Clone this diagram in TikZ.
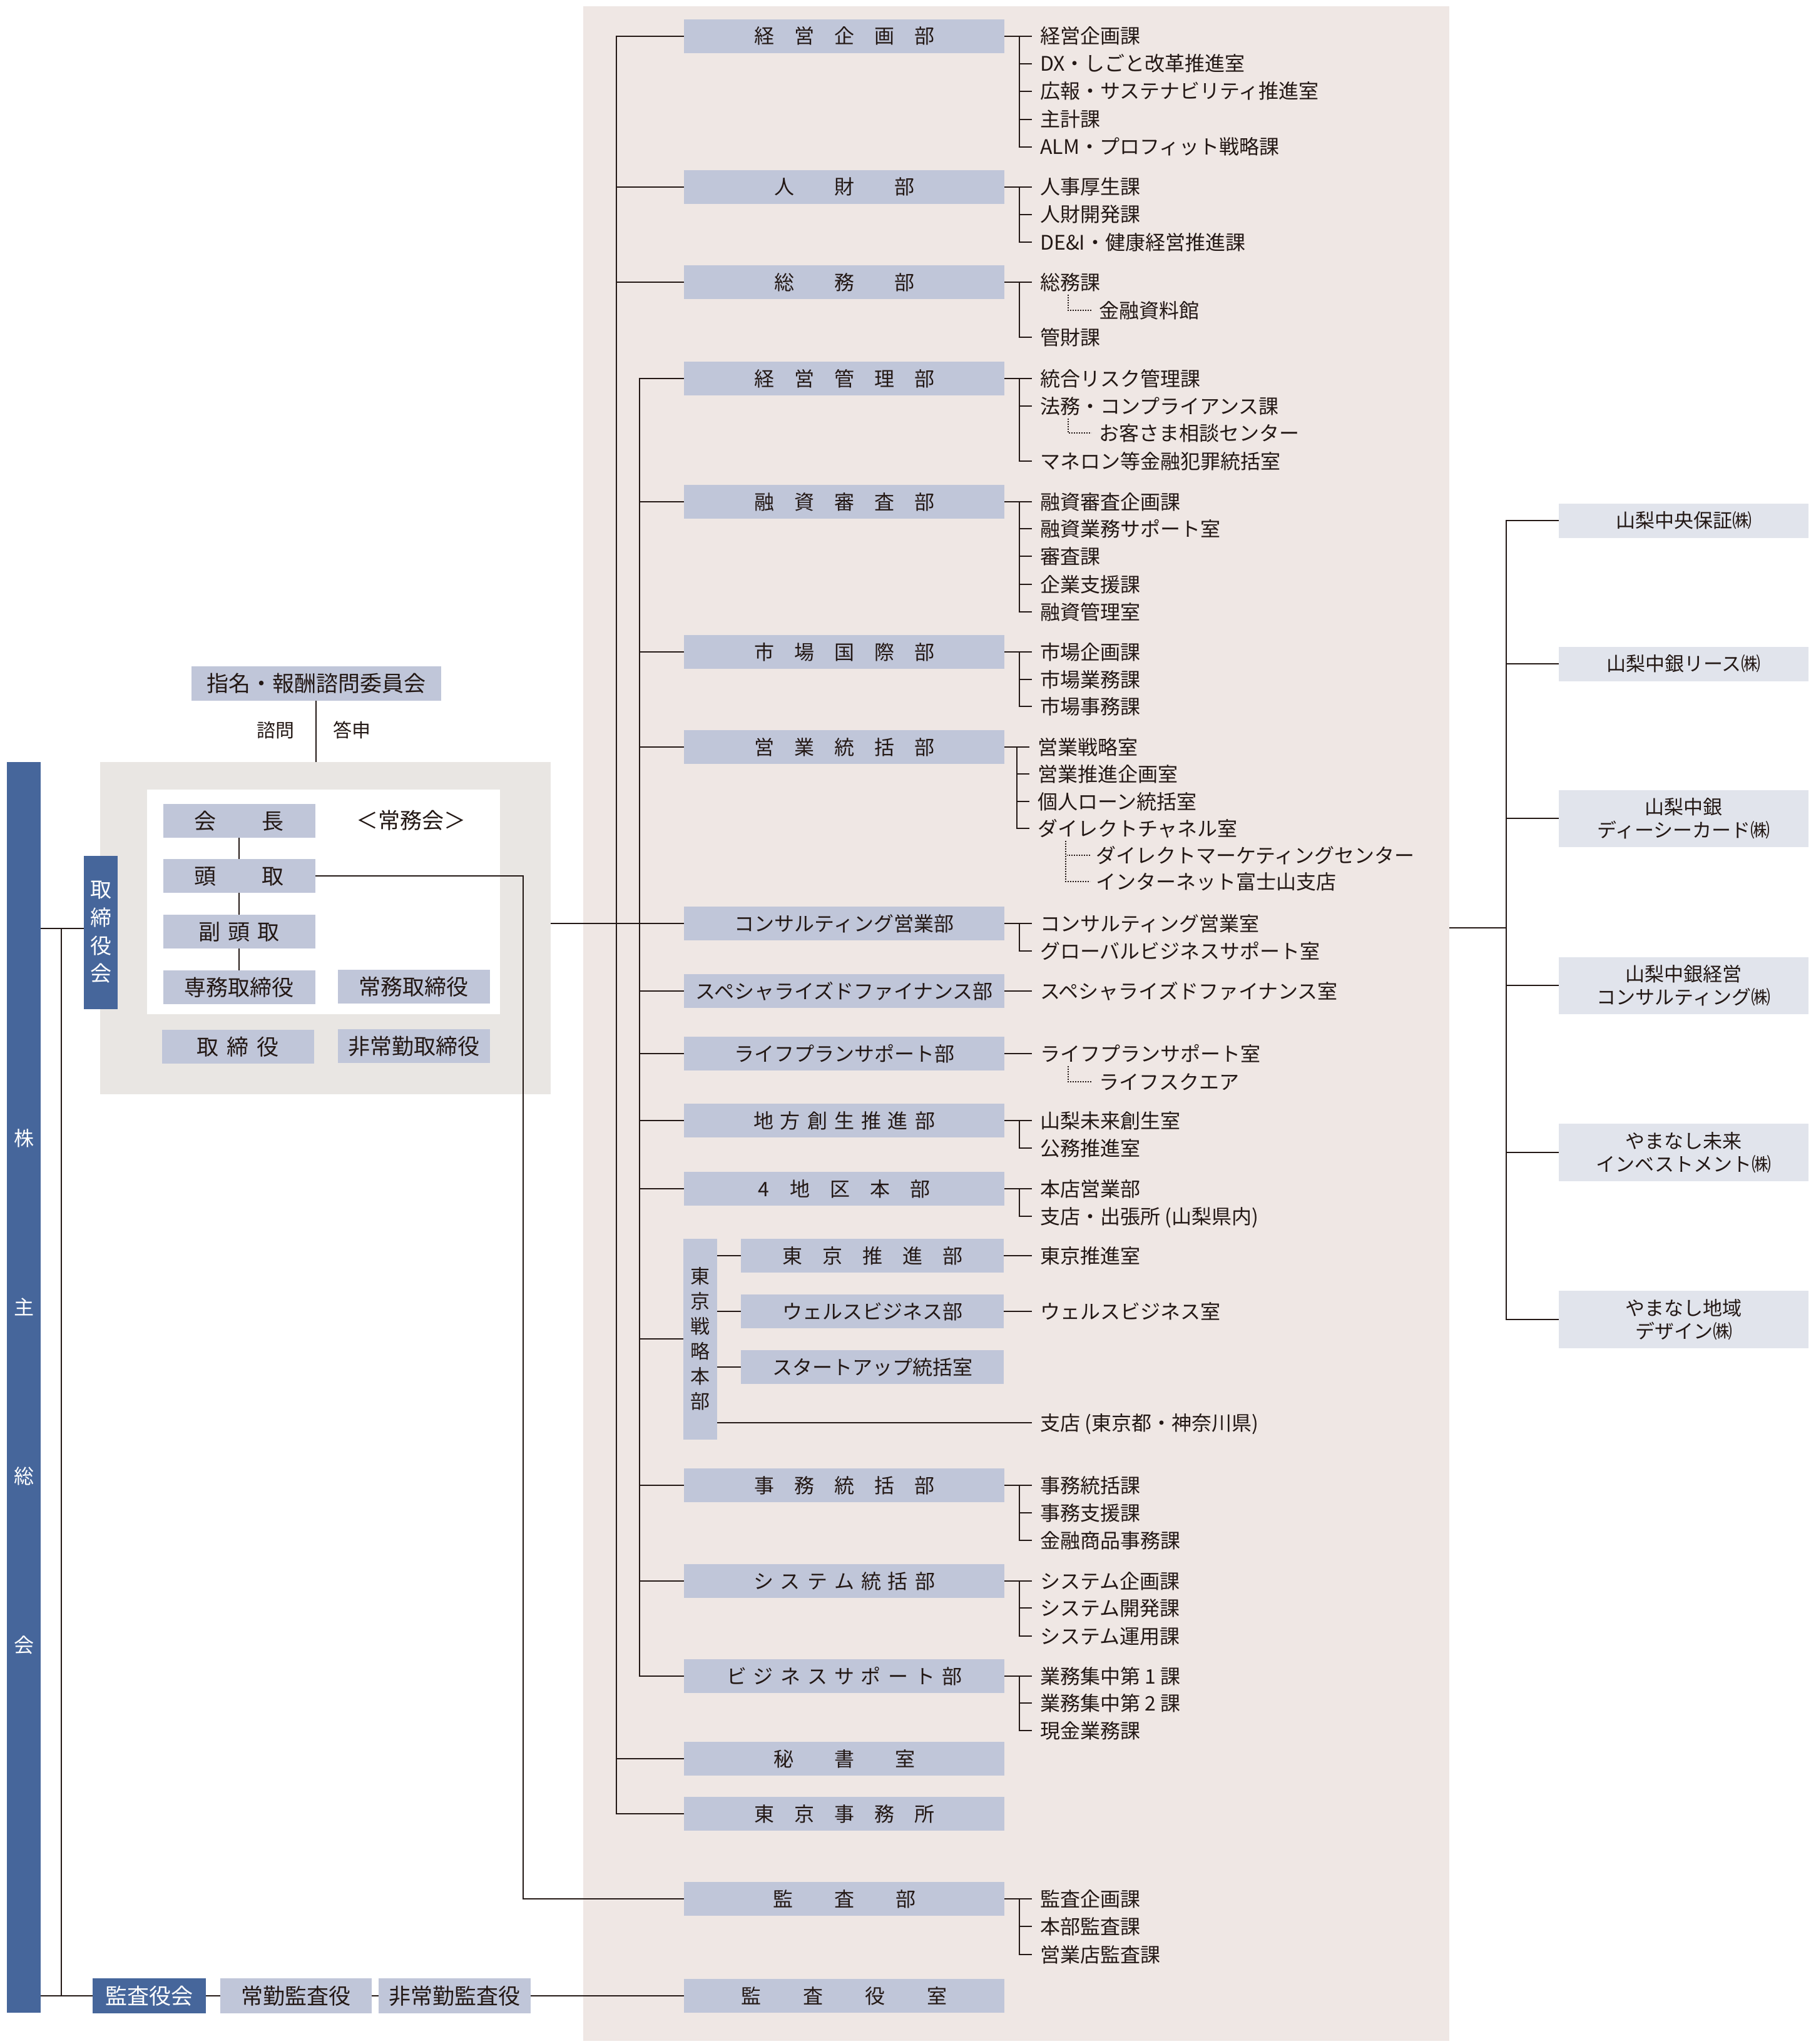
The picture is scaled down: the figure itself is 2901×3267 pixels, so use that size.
\documentclass[tikz,border=0pt]{standalone}
\usepackage{fontspec}
\setmainfont{Noto Sans CJK JP}
\definecolor{pinkc}{RGB}{239,231,228}
\definecolor{greyc}{RGB}{233,230,227}
\definecolor{deptc}{RGB}{192,198,217}
\definecolor{subc}{RGB}{225,228,236}
\definecolor{bluec}{RGB}{70,102,155}
\definecolor{txtc}{RGB}{35,24,21}
\newcommand{\fsz}[1]{\fontsize{#1pt}{#1pt}\selectfont}
\newcommand{\gp}[1]{\hspace{#1pt}}
\newcommand{\brk}[3]{\draw[ln] (#1.east) -- ([xshift=-13pt]#2.west); \draw[ln] ([xshift=-33pt]#2.west) |- ([xshift=-13pt]#3.west);}
\newcommand{\tk}[1]{\draw[ln] ([xshift=-33pt]#1.west) -- ([xshift=-13pt]#1.west);}
\newcommand{\dt}[2]{\draw[dotl] ([xshift=45pt,yshift=-20pt]#1.west) |- ([xshift=-12pt]#2.west);}
\pgfdeclarelayer{panels}
\pgfdeclarelayer{lines}
\pgfsetlayers{panels,lines,main}
\begin{document}
\begin{tikzpicture}[x=1pt,y=-1pt,
 dept/.style={fill=deptc, inner sep=0pt, minimum width=512pt, minimum height=54pt, text=txtc, font=\fsz{32}, text height=28pt, text depth=4pt},
 item/.style={anchor=west, inner sep=0pt, text=txtc, font=\fsz{32}, text height=28pt, text depth=4pt},
 vbox/.style={fill=deptc, inner sep=0pt, minimum width=54pt, minimum height=321pt, text=txtc, align=center, font=\fontsize{31pt}{40pt}\selectfont},
 bd/.style={fill=deptc, inner sep=0pt, minimum width=243pt, minimum height=54pt, text=txtc, font=\fsz{35}, text height=31pt, text depth=4pt},
 lbl/.style={inner sep=0pt, text=txtc, font=\fsz{30}},
 sub/.style={fill=subc, inner sep=0pt, minimum width=399pt, minimum height=55pt, text=txtc, align=center, font=\fontsize{31pt}{37pt}\selectfont},
 ln/.style={draw=txtc, line width=2.2pt},
 ln2/.style={draw=txtc, line width=1.8pt},
 ln3/.style={draw=txtc, line width=1.8pt},
 dotl/.style={draw=txtc, line width=1.6pt, dash pattern=on 1.6pt off 2.4pt}
]
\useasboundingbox (0,0) rectangle (2901,3267);
\begin{pgfonlayer}{panels}
\fill[white] (0,0) rectangle (2901,3267);
\node[fill=pinkc, inner sep=0pt, minimum width=1384pt, minimum height=3252pt] (mainpanel) at (1624,1636) {};
\node[fill=greyc, inner sep=0pt, minimum width=720pt, minimum height=531pt] (bpanel) at (520,1483.5) {};
\node[fill=white, inner sep=0pt, minimum width=564pt, minimum height=359pt] (wpanel) at (517,1441.5) {};
\end{pgfonlayer}

% departments
\node[dept] (d1) at (1349,58) {経\gp{32}営\gp{32}企\gp{32}画\gp{32}部};
\node[dept] (d2) at (1349,299) {人\gp{64}財\gp{64}部};
\node[dept] (d3) at (1349,451) {総\gp{64}務\gp{64}部};
\node[dept] (d4) at (1349,605) {経\gp{32}営\gp{32}管\gp{32}理\gp{32}部};
\node[dept] (d5) at (1349,802) {融\gp{32}資\gp{32}審\gp{32}査\gp{32}部};
\node[dept] (d6) at (1349,1042) {市\gp{32}場\gp{32}国\gp{32}際\gp{32}部};
\node[dept] (d7) at (1349,1194) {営\gp{32}業\gp{32}統\gp{32}括\gp{32}部};
\node[dept] (d8) at (1349,1476) {コンサルティング営業部};
\node[dept] (d9) at (1349,1584) {スペシャライズドファイナンス部};
\node[dept] (d10) at (1349,1684) {ライフプランサポート部};
\node[dept] (d11) at (1349,1791) {地\gp{11}方\gp{11}創\gp{11}生\gp{11}推\gp{11}進\gp{11}部};
\node[dept] (d12) at (1349,1900) {4\gp{34}地\gp{32}区\gp{32}本\gp{32}部};
\node[vbox] (d13) at (1119,2140) {東\\京\\戦\\略\\本\\部};
\node[dept, minimum width=420pt] (t1) at (1394,2007) {東\gp{32}京\gp{32}推\gp{32}進\gp{32}部};
\node[dept, minimum width=420pt] (t2) at (1394,2096) {ウェルスビジネス部};
\node[dept, minimum width=420pt] (t3) at (1394,2185) {スタートアップ統括室};
\node[dept] (d14) at (1349,2374) {事\gp{32}務\gp{32}統\gp{32}括\gp{32}部};
\node[dept] (d15) at (1349,2527) {シ\gp{11}ス\gp{11}テ\gp{11}ム\gp{11}統\gp{11}括\gp{11}部};
\node[dept] (d16) at (1349,2679) {ビ\gp{11}ジ\gp{11}ネ\gp{11}ス\gp{11}サ\gp{11}ポ\gp{11}ー\gp{11}ト\gp{11}部};
\node[dept] (d17) at (1349,2811) {秘\gp{65}書\gp{65}室};
\node[dept] (d18) at (1349,2899) {東\gp{32}京\gp{32}事\gp{32}務\gp{32}所};
\node[dept] (d19) at (1349,3035) {監\gp{66}査\gp{66}部};
\node[dept] (d20) at (1349,3190) {監\gp{67}査\gp{67}役\gp{67}室};

% items
\node[item] (i1a) at (1662,58) {経営企画課};
\node[item] (i1b) at (1662,102) {DX・しごと改革推進室};
\node[item] (i1c) at (1662,146) {広報・サステナビリティ推進室};
\node[item] (i1d) at (1662,191) {主計課};
\node[item] (i1e) at (1662,235) {ALM・プロフィット戦略課};
\node[item] (i2a) at (1662,299) {人事厚生課};
\node[item] (i2b) at (1662,343) {人財開発課};
\node[item] (i2c) at (1662,387) {DE\&I・健康経営推進課};
\node[item] (i3a) at (1662,451) {総務課};
\node[item] (i3x) at (1756,496) {金融資料館};
\node[item] (i3b) at (1662,539) {管財課};
\node[item] (i4a) at (1662,605) {統合リスク管理課};
\node[item] (i4b) at (1662,649) {法務・コンプライアンス課};
\node[item] (i4x) at (1756,692) {お客さま相談センター};
\node[item] (i4c) at (1662,737) {マネロン等金融犯罪統括室};
\node[item] (i5a) at (1662,802) {融資審査企画課};
\node[item] (i5b) at (1662,845) {融資業務サポート室};
\node[item] (i5c) at (1662,889) {審査課};
\node[item] (i5d) at (1662,934) {企業支援課};
\node[item] (i5e) at (1662,978) {融資管理室};
\node[item] (i6a) at (1662,1042) {市場企画課};
\node[item] (i6b) at (1662,1086) {市場業務課};
\node[item] (i6c) at (1662,1129) {市場事務課};
\node[item] (i7a) at (1658,1194) {営業戦略室};
\node[item] (i7b) at (1658,1237) {営業推進企画室};
\node[item] (i7c) at (1658,1281) {個人ローン統括室};
\node[item] (i7d) at (1658,1324) {ダイレクトチャネル室};
\node[item] (i7x) at (1751,1367) {ダイレクトマーケティングセンター};
\node[item] (i7y) at (1751,1409) {インターネット富士山支店};
\node[item] (i8a) at (1662,1476) {コンサルティング営業室};
\node[item] (i8b) at (1662,1520) {グローバルビジネスサポート室};
\node[item] (i9a) at (1662,1584) {スペシャライズドファイナンス室};
\node[item] (i10a) at (1662,1684) {ライフプランサポート室};
\node[item] (i10x) at (1756,1729) {ライフスクエア};
\node[item] (i11a) at (1662,1791) {山梨未来創生室};
\node[item] (i11b) at (1662,1835) {公務推進室};
\node[item] (i12a) at (1662,1900) {本店営業部};
\node[item] (i12b) at (1662,1944) {支店・出張所 (山梨県内)};
\node[item] (it1) at (1662,2007) {東京推進室};
\node[item] (it2) at (1662,2096) {ウェルスビジネス室};
\node[item] (ibr) at (1662,2274) {支店 (東京都・神奈川県)};
\node[item] (i14a) at (1662,2374) {事務統括課};
\node[item] (i14b) at (1662,2418) {事務支援課};
\node[item] (i14c) at (1662,2462) {金融商品事務課};
\node[item] (i15a) at (1662,2527) {システム企画課};
\node[item] (i15b) at (1662,2570) {システム開発課};
\node[item] (i15c) at (1662,2615) {システム運用課};
\node[item] (i16a) at (1662,2679) {業務集中第 1 課};
\node[item] (i16b) at (1662,2722) {業務集中第 2 課};
\node[item] (i16c) at (1662,2766) {現金業務課};
\node[item] (i19a) at (1662,3035) {監査企画課};
\node[item] (i19b) at (1662,3079) {本部監査課};
\node[item] (i19c) at (1662,3124) {営業店監査課};

% board
\node[bd, minimum width=399pt, minimum height=55pt] (shimei) at (505,1092) {指名・報酬諮問委員会};
\node[lbl] (shimon) at (440,1167) {諮問};
\node[lbl] (toshin) at (562,1167) {答申};
\node[bd] (kaicho) at (382,1312) {会\gp{73}長};
\node[bd] (tohdori) at (382,1400) {頭\gp{73}取};
\node[bd] (fuku) at (382,1489) {副\gp{12}頭\gp{12}取};
\node[bd] (senmu) at (382,1578) {専務取締役};
\node[bd] (jomu) at (661,1577) {常務取締役};
\node[bd] (tori) at (380,1673) {取\gp{13}締\gp{13}役};
\node[bd] (hijo) at (661,1672) {非常勤取締役};
\node[inner sep=0pt, text=txtc, font=\fsz{35}] (jomukai) at (657,1311) {＜常務会＞};
\node[fill=bluec, inner sep=0pt, minimum width=54pt, minimum height=245pt, text=white, align=center, font=\fontsize{34pt}{44.6pt}\selectfont] (torikai) at (161,1490) {取\\締\\役\\会};
\node[fill=bluec, inner sep=0pt, minimum width=54pt, minimum height=1999pt, text=white, align=center, font=\fontsize{32pt}{270pt}\selectfont, text height=852pt, text depth=4pt] (kab) at (38,2217) {株\\主\\総\\会};
\node[fill=bluec, inner sep=0pt, minimum width=181pt, minimum height=56pt, text=white, font=\fsz{35}, text height=31pt, text depth=4pt] (kyakai) at (238.5,3190) {監査役会};
\node[bd, minimum width=242pt, minimum height=56pt] (jokin) at (473,3190) {常勤監査役};
\node[bd, minimum width=243pt, minimum height=56pt] (hijokin) at (726.5,3190) {非常勤監査役};

% subsidiaries
\node[sub] (s1) at (2690.5,832) {山梨中央保証㈱};
\node[sub] (s2) at (2690.5,1061) {山梨中銀リース㈱};
\node[sub, minimum height=91pt] (s3) at (2690.5,1308) {山梨中銀\\ディーシーカード㈱};
\node[sub, minimum height=91pt] (s4) at (2690.5,1575) {山梨中銀経営\\コンサルティング㈱};
\node[sub, minimum height=92pt] (s5) at (2690.5,1842) {やまなし未来\\インベストメント㈱};
\node[sub, minimum height=92pt] (s6) at (2690.5,2109) {やまなし地域\\デザイン㈱};

\coordinate (tA) at (985,0);
\coordinate (tB) at (1022,0);
\coordinate (tc) at (836,0);
\coordinate (kj) at (98,1484);
\coordinate (sj) at (2407,1483);

\begin{pgfonlayer}{lines}
% trunks
\draw[ln] (d1.west) -- (d1.west -| tA) |- (d18.west);
\foreach \n in {d2,d3,d17} \draw[ln] (\n.west) -- (\n.west -| tA);
\draw[ln] (d4.west) -- (d4.west -| tB) |- (d16.west);
\foreach \n in {d5,d6,d7,d9,d10,d11,d12,d13,d14,d15} \draw[ln] (\n.west) -- (\n.west -| tB);
\draw[ln] (d8.west -| bpanel.east) -- (d8.west);
\foreach \n in {t1,t2,t3} \draw[ln] (\n.west -| d13.east) -- (\n.west);
\draw[ln] (ibr.west -| d13.east) -- ([xshift=-13pt]ibr.west);
% brackets
\brk{d1}{i1a}{i1e} \tk{i1b} \tk{i1c} \tk{i1d}
\brk{d2}{i2a}{i2c} \tk{i2b}
\brk{d3}{i3a}{i3b} \dt{i3a}{i3x}
\brk{d4}{i4a}{i4c} \tk{i4b} \dt{i4b}{i4x}
\brk{d5}{i5a}{i5e} \tk{i5b} \tk{i5c} \tk{i5d}
\brk{d6}{i6a}{i6c} \tk{i6b}
\brk{d7}{i7a}{i7d} \tk{i7b} \tk{i7c}
\draw[dotl] ([xshift=45pt,yshift=-20pt]i7d.west) |- ([xshift=-9pt]i7y.west);
\draw[dotl] ([xshift=-9pt]i7x.west) -- ([xshift=-46pt]i7x.west);
\brk{d8}{i8a}{i8b}
\draw[ln] (d9.east) -- ([xshift=-13pt]i9a.west);
\draw[ln] (d10.east) -- ([xshift=-13pt]i10a.west);
\dt{i10a}{i10x}
\brk{d11}{i11a}{i11b}
\brk{d12}{i12a}{i12b}
\draw[ln] (t1.east) -- ([xshift=-13pt]it1.west);
\draw[ln] (t2.east) -- ([xshift=-13pt]it2.west);
\brk{d14}{i14a}{i14c} \tk{i14b}
\brk{d15}{i15a}{i15c} \tk{i15b}
\brk{d16}{i16a}{i16c} \tk{i16b}
\brk{d19}{i19a}{i19c} \tk{i19b}
% board
\draw[ln2] (shimei.south) -- (shimei.south |- bpanel.north);
\draw[ln2] (kaicho.south) -- (tohdori.north);
\draw[ln2] (tohdori.south) -- (fuku.north);
\draw[ln2] (fuku.south) -- (senmu.north);
\draw[ln2] (tohdori.east) -- (tohdori.east -| tc) |- (d19.west);
\draw[ln2] (kj -| kab.east) -- (kj -| torikai.west);
\draw[ln2] (kj) -- (kj |- kyakai.west);
\draw[ln] (kyakai.west -| kab.east) -- (d20.west);
% subsidiaries
\draw[ln3] (sj -| mainpanel.east) -- (sj);
\draw[ln3] (s1.west) -- (s1.west -| sj) |- (s6.west);
\foreach \n in {s2,s3,s4,s5} \draw[ln3] (\n.west) -- (\n.west -| sj);
\end{pgfonlayer}
\end{tikzpicture}
\end{document}
